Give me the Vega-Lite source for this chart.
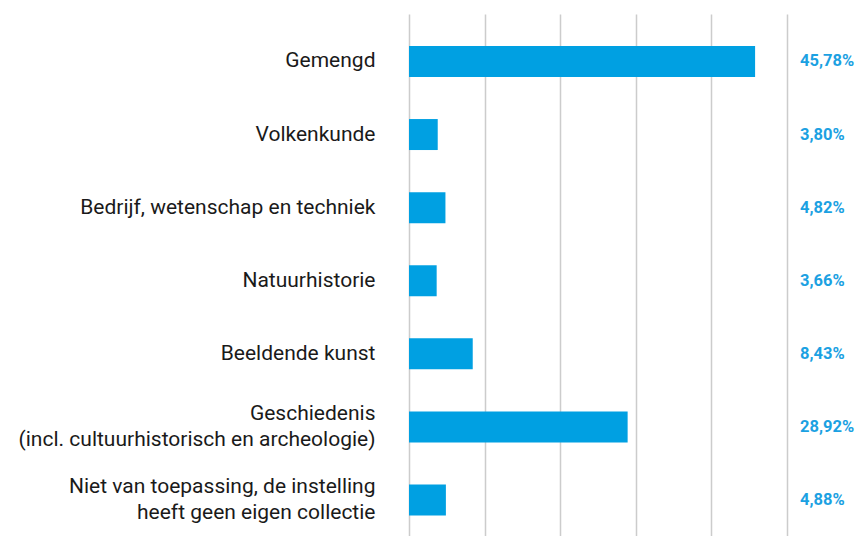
{
  "$schema": "https://vega.github.io/schema/vega-lite/v6.json",
  "width": 378,
  "height": 522,
  "autosize": {"type": "none"},
  "padding": {"left": 409, "top": 14, "right": 78, "bottom": 0},
  "background": "white",
  "config": {
    "view": {"stroke": null},
    "font": "Roboto"
  },
  "data": {
    "values": [
      {"category": "Gemengd", "value": 45.78, "label": "45,78%"},
      {"category": "Volkenkunde", "value": 3.80, "label": "3,80%"},
      {"category": "Bedrijf, wetenschap en techniek", "value": 4.82, "label": "4,82%"},
      {"category": "Natuurhistorie", "value": 3.66, "label": "3,66%"},
      {"category": "Beeldende kunst", "value": 8.43, "label": "8,43%"},
      {"category": "Geschiedenis|(incl. cultuurhistorisch en archeologie)", "value": 28.92, "label": "28,92%"},
      {"category": "Niet van toepassing, de instelling|heeft geen eigen collectie", "value": 4.88, "label": "4,88%"}
    ]
  },
  "encoding": {
    "y": {
      "field": "category",
      "type": "nominal",
      "sort": null,
      "scale": {"paddingInner": 0.576, "paddingOuter": 0.358, "align": 0.61},
      "axis": {
        "title": null,
        "domain": false,
        "ticks": false,
        "labelPadding": 34,
        "labelFontSize": 21,
        "labelColor": "#1a1a1a",
        "labelLimit": 420,
        "labelLineHeight": 26,
        "labelOffset": {"condition": {"test": "indexof(datum.label, '|') >= 0", "value": -13}, "value": 0},
        "labelExpr": "split(datum.label, '|')"
      }
    }
  },
  "layer": [
    {
      "mark": {"type": "bar", "color": "#00A0E2"},
      "encoding": {
        "x": {
          "field": "value",
          "type": "quantitative",
          "scale": {"domain": [0, 50], "nice": false},
          "axis": {
            "title": null,
            "labels": false,
            "ticks": false,
            "domain": false,
            "grid": true,
            "values": [0, 10, 20, 30, 40, 50],
            "gridColor": "#cccccc",
            "gridWidth": 1.5,
            "zindex": 0
          }
        }
      }
    },
    {
      "mark": {"type": "text", "align": "left", "baseline": "middle", "dx": 13, "fontSize": 16.5, "fontWeight": "bold", "color": "#1BA1E2"},
      "encoding": {
        "x": {"datum": 50},
        "text": {"field": "label"}
      }
    }
  ]
}
